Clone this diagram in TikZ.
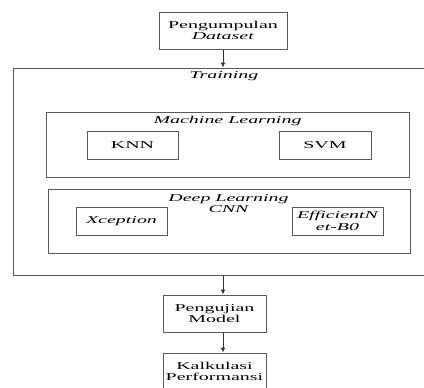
\documentclass[tikz,border=0pt]{standalone}
\usepackage{fontspec}
\setmainfont{Liberation Serif}[FakeStretch=1.9]
\usetikzlibrary{arrows.meta,positioning}
\tikzset{box/.style={draw=black!65,line width=1pt,align=center,inner sep=0pt,
  font=\fontsize{10.5}{11.5}\selectfont},
  frame/.style={draw=black!65,line width=1pt,inner sep=0pt},
  lbl/.style={align=center,inner sep=0pt,font=\fontsize{10.5}{11.5}\selectfont\itshape},
  arrow/.style={-{Latex[length=5pt,width=5pt]},line width=1pt,black!80}}

\begin{document}
\begin{tikzpicture}[x=1pt,y=-1pt]
\useasboundingbox (0,0) rectangle (424,388);
\node[box,minimum width=128,minimum height=37] (data) at (223,30.5) {Pengumpulan\\\textit{Dataset}};
\node[frame,minimum width=412,minimum height=207] (train) at (219,171.5) {};
\node[lbl] (trainlbl) at (224,76) {Training};
\node[frame,minimum width=363,minimum height=65] (ml) at (227.5,144.5) {};
\node[lbl] (mllbl) at (227.5,121) {Machine Learning};
\node[box,minimum width=91,minimum height=28] (knn) at (132.5,145) {KNN};
\node[box,minimum width=92,minimum height=28] (svm) at (325,145) {SVM};
\node[frame,minimum width=362,minimum height=64] (dl) at (229,221) {};
\node[lbl] (dllbl) at (228.5,203.5) {Deep Learning\\CNN};
\node[box,minimum width=91,minimum height=28,font=\fontsize{10.5}{11.5}\selectfont\itshape] (xcp) at (121.5,221) {Xception};
\node[box,minimum width=91,minimum height=28,font=\fontsize{10.5}{11.5}\selectfont\itshape] (eff) at (337.5,221) {EfficientN\\et-B0};
\node[box,minimum width=103,minimum height=37] (test) at (214.5,313.5) {Pengujian\\Model};
\node[box,minimum width=103,minimum height=37] (perf) at (214.5,371.5) {Kalkulasi\\Performansi};
\draw[arrow] (data.south) -- (data.south |- train.north);
\draw[arrow] (train.south -| data.south) -- (data.south |- test.north);
\draw[arrow] (test.south -| data.south) -- (data.south |- perf.north);
\end{tikzpicture}
\end{document}
